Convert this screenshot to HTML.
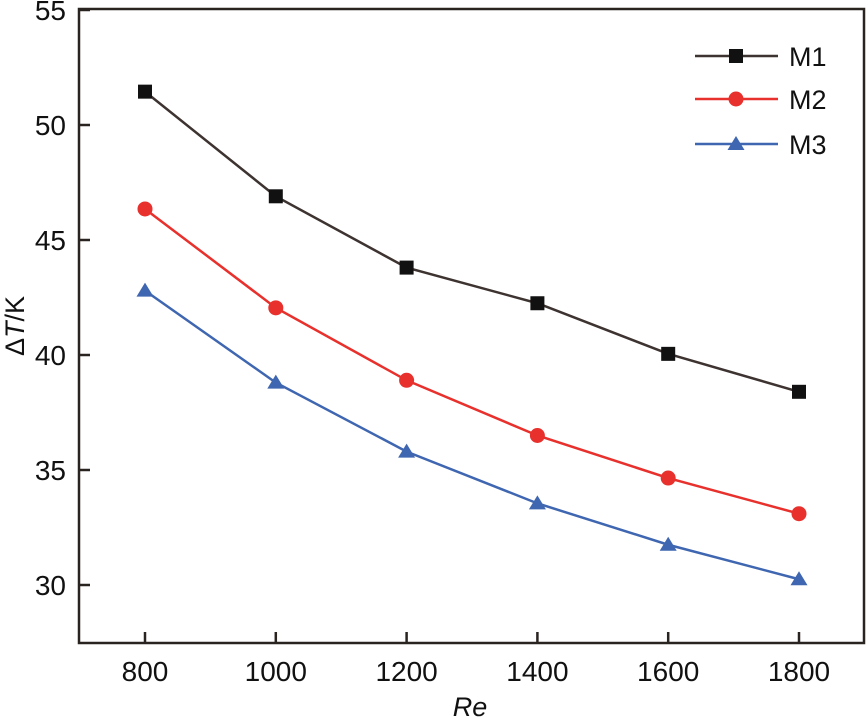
<!DOCTYPE html>
<html><head><meta charset="utf-8"><style>body{margin:0;background:#fff}svg{display:block;font-family:"Liberation Sans",Arial,sans-serif}</style></head>
<body>
<svg id="chart" width="868" height="720"></svg>
<script>
const categories=[800,1000,1200,1400,1600,1800];
const m1=[51.45,46.9,43.8,42.25,40.05,38.4];
const m2=[46.35,42.05,38.9,36.5,34.65,33.1];
const m3=[42.8,38.8,35.8,33.55,31.75,30.25];
const yTicks=[30,35,40,45,50,55];
const seriesNames=['M1','M2','M3'];
const NS='http://www.w3.org/2000/svg';
const svg=document.getElementById('chart');
const L=79,R=864,T=9,B=643;
const xs=v=>145+(v-800)*(799-145)/1000;
const ys=v=>585-(v-30)*23;
function el(t,a,p){const e=document.createElementNS(NS,t);for(const k in a)e.setAttribute(k,a[k]);(p||svg).appendChild(e);return e;}
const frame=el('rect',{x:L,y:T,width:R-L,height:B-T,fill:'none',stroke:'#2a2420','stroke-width':2.5});


yTicks.forEach(v=>{
 const t=el('line',{x1:L,x2:L+11,y1:ys(v),y2:ys(v),stroke:'#2a2420','stroke-width':2.5});
 
 
 const l=el('text',{x:L-13,y:ys(v)+10,'text-anchor':'end','font-size':28,fill:'#111'});l.textContent=v;
 
 
});
categories.forEach(v=>{
 const t=el('line',{x1:xs(v),x2:xs(v),y1:B,y2:B-11,stroke:'#2a2420','stroke-width':2.5});
 
 
 const l=el('text',{x:xs(v),y:681,'text-anchor':'middle','font-size':28,fill:'#111'});l.textContent=v;
 
 
});
const xt=el('text',{x:470,y:716,'text-anchor':'middle','font-size':27,'font-style':'italic',fill:'#111'});xt.textContent='Re';


const yt=el('text',{x:0,y:0,transform:'translate(24,326) rotate(-90)','text-anchor':'middle','font-size':27,fill:'#111'});
yt.innerHTML='Δ<tspan font-style="italic">T</tspan>/K';


const colors=['#3d3330','#e8302c','#3f66b0'];
const mcol=['#111','#e8302c','#3f66b0'];
function marker(i,x,y,g){
 if(i===0)return el('rect',{x:x-7,y:y-7,width:14,height:14,fill:mcol[0]},g);
 if(i===1)return el('circle',{cx:x,cy:y,r:7.5,fill:mcol[1]},g);
 return el('polygon',{points:`${x},${y-8} ${x+8.5},${y+6} ${x-8.5},${y+6}`,fill:mcol[2]},g);
}
[m1,m2,m3].forEach((d,i)=>{
 const g=el('g',{});
 
 
 el('polyline',{points:d.map((v,j)=>xs(categories[j])+','+ys(v)).join(' '),fill:'none',stroke:colors[i],'stroke-width':2.5},g);
 d.forEach((v,j)=>{const m=marker(i,xs(categories[j]),ys(v),g);
  
  });
 const ly=[56,99,144][i];
 const lg=el('g',{});
 
 
 el('line',{x1:695,x2:778,y1:ly,y2:ly,stroke:colors[i],'stroke-width':2.5},lg);
 marker(i,736,ly,lg);
 const lt=el('text',{x:789,y:ly+10,'font-size':27,fill:'#111'},lg);lt.textContent=seriesNames[i];
});
</script>
</body></html>
